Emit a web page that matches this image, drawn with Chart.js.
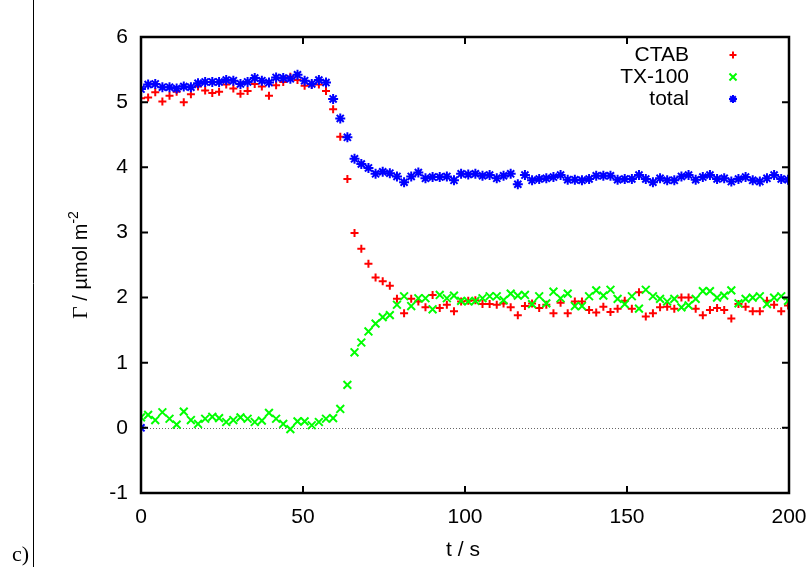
<!DOCTYPE html>
<html>
<head>
<meta charset="utf-8">
<script src="https://cdn.jsdelivr.net/npm/chart.js@4/dist/chart.umd.min.js"></script>
<style>
  html, body { margin: 0; padding: 0; background: #fff; }
  #wrap { position: relative; width: 811px; height: 567px; }
</style>
</head>
<body>
<div id="wrap"><canvas id="grafico"></canvas></div>
<script>
// time axis (s)
const tempos = [0, 2.2, 4.4, 6.6, 8.8, 11.0, 13.2, 15.4, 17.6, 19.8,
  22.0, 24.1, 26.3, 28.5, 30.7, 32.9, 35.1, 37.3, 39.5, 41.7,
  43.9, 46.1, 48.3, 50.5, 52.7, 54.9, 57.1, 59.3, 61.5, 63.7,
  65.9, 68.0, 70.2, 72.4, 74.6, 76.8, 79.0, 81.2, 83.4, 85.6,
  87.8, 90.0, 92.2, 94.4, 96.6, 98.8, 101.0, 103.2, 105.4, 107.6,
  109.8, 111.9, 114.1, 116.3, 118.5, 120.7, 122.9, 125.1, 127.3, 129.5,
  131.7, 133.9, 136.1, 138.3, 140.5, 142.7, 144.9, 147.1, 149.3, 151.5,
  153.7, 155.8, 158.0, 160.2, 162.4, 164.6, 166.8, 169.0, 171.2, 173.4,
  175.6, 177.8, 180.0, 182.2, 184.4, 186.6, 188.8, 191.0, 193.2, 195.4,
  197.6, 199.7];

const ctab = [5.06, 5.07, 5.15, 5.01, 5.10, 5.16, 5.00, 5.12, 5.24, 5.18,
  5.14, 5.16, 5.27, 5.21, 5.13, 5.17, 5.28, 5.24, 5.10, 5.26,
  5.31, 5.39, 5.34, 5.25, 5.27, 5.27, 5.17, 4.89, 4.47, 3.82,
  2.99, 2.75, 2.52, 2.31, 2.25, 2.18, 1.98, 1.76, 1.98, 1.94,
  1.85, 2.04, 1.84, 1.89, 1.79, 1.94, 1.95, 1.96, 1.90, 1.90,
  1.89, 1.91, 1.85, 1.73, 1.87, 1.91, 1.84, 1.89, 1.76, 1.92,
  1.76, 1.94, 1.94, 1.81, 1.77, 1.86, 1.78, 1.83, 1.95, 1.83,
  2.08, 1.71, 1.76, 1.85, 1.86, 1.83, 2.00, 2.00, 1.83, 1.73,
  1.81, 1.84, 1.81, 1.68, 1.90, 1.86, 1.79, 1.79, 1.95, 1.89,
  1.79, 1.88];

const tx100 = [0.16, 0.20, 0.12, 0.24, 0.14, 0.05, 0.25, 0.12, 0.06, 0.14,
  0.17, 0.15, 0.09, 0.12, 0.16, 0.14, 0.09, 0.11, 0.23, 0.14,
  0.06, -0.02, 0.10, 0.10, 0.04, 0.09, 0.14, 0.15, 0.29, 0.66,
  1.16, 1.31, 1.48, 1.60, 1.70, 1.73, 1.89, 2.02, 1.87, 1.99,
  1.99, 1.82, 2.04, 1.99, 2.03, 1.95, 1.94, 1.95, 1.99, 2.02,
  2.02, 1.96, 2.06, 2.03, 2.04, 1.90, 2.02, 1.91, 2.09, 1.99,
  2.06, 1.87, 1.87, 2.02, 2.11, 2.03, 2.12, 1.98, 1.90, 2.02,
  1.83, 2.12, 2.02, 1.98, 1.94, 1.98, 1.85, 1.88, 1.98, 2.10,
  2.10, 2.00, 2.03, 2.11, 1.91, 1.98, 2.00, 2.02, 1.90, 2.00,
  2.02, 1.95];

const total = [5.20, 5.27, 5.28, 5.23, 5.23, 5.21, 5.24, 5.23, 5.29, 5.31,
  5.31, 5.31, 5.34, 5.33, 5.28, 5.31, 5.37, 5.33, 5.30, 5.38,
  5.37, 5.36, 5.42, 5.33, 5.28, 5.34, 5.30, 5.05, 4.75, 4.46,
  4.13, 4.05, 3.99, 3.90, 3.93, 3.91, 3.86, 3.77, 3.86, 3.92,
  3.83, 3.85, 3.85, 3.86, 3.80, 3.90, 3.89, 3.90, 3.87, 3.88,
  3.83, 3.87, 3.90, 3.74, 3.88, 3.80, 3.82, 3.83, 3.85, 3.88,
  3.81, 3.81, 3.80, 3.82, 3.87, 3.87, 3.87, 3.81, 3.82, 3.82,
  3.88, 3.82, 3.77, 3.83, 3.80, 3.80, 3.86, 3.88, 3.81, 3.85,
  3.88, 3.82, 3.83, 3.78, 3.82, 3.85, 3.80, 3.78, 3.83, 3.88,
  3.82, 3.81];

// stray point of the total series sitting on the origin
const totalExtraT = [0];
const totalExtra = [0];

const xTicks = [0, 50, 100, 150, 200];
const yTicks = [-1, 0, 1, 2, 3, 4, 5, 6];

const pares = (xs, ys) => ys.map((v, i) => ({ x: xs[i], y: v }));

const SANS = "'Liberation Sans', Arial, sans-serif";
const SERIF = "'Liberation Serif', 'Times New Roman', serif";

// moldura estilo gnuplot, ticks para dentro, legenda e titulos
const moldura = {
  id: 'moldura',
  beforeDatasetsDraw(chart) {
    const { ctx, chartArea: a, scales } = chart;
    const y0 = scales.y.getPixelForValue(0);
    ctx.save();
    ctx.strokeStyle = '#666';
    ctx.lineWidth = 1;
    ctx.setLineDash([1, 2]);
    ctx.beginPath();
    ctx.moveTo(a.left, Math.round(y0) + 0.5);
    ctx.lineTo(a.right, Math.round(y0) + 0.5);
    ctx.stroke();
    ctx.restore();
  },
  afterDraw(chart) {
    const { ctx, chartArea: a, scales } = chart;
    ctx.save();
    ctx.strokeStyle = '#000';
    ctx.lineWidth = 2.5;
    ctx.strokeRect(a.left, a.top, a.right - a.left, a.bottom - a.top);

    const len = 7;
    ctx.lineWidth = 2;
    ctx.beginPath();
    xTicks.forEach(v => {
      const px = scales.x.getPixelForValue(v);
      ctx.moveTo(px, a.bottom); ctx.lineTo(px, a.bottom - len);
      ctx.moveTo(px, a.top); ctx.lineTo(px, a.top + len);
    });
    yTicks.forEach(v => {
      const py = scales.y.getPixelForValue(v);
      ctx.moveTo(a.left, py); ctx.lineTo(a.left + len, py);
      ctx.moveTo(a.right, py); ctx.lineTo(a.right - len, py);
    });
    ctx.stroke();

    // legenda
    ctx.font = '21px ' + SANS;
    ctx.textAlign = 'right';
    ctx.textBaseline = 'middle';
    const linhas = [55, 77, 99];
    chart.data.datasets.forEach((ds, i) => {
      ctx.fillStyle = '#000';
      ctx.fillText(ds.label, 689, linhas[i]);
      ctx.strokeStyle = ds.borderColor;
      ctx.fillStyle = ds.borderColor;
      ctx.lineWidth = ds.borderWidth;
      Chart.helpers.drawPoint(ctx, {
        pointStyle: ds.pointStyle,
        radius: ds.legendRadius,
        borderWidth: ds.borderWidth
      }, 733, linhas[i]);
    });

    // titulo eixo x
    ctx.fillStyle = '#000';
    ctx.textAlign = 'center';
    ctx.textBaseline = 'alphabetic';
    ctx.font = '21px ' + SANS;
    ctx.fillText('t / s', 463, 556);

    // titulo eixo y
    const partes = [
      { txt: 'Γ', font: '22px ' + SERIF, dy: 0 },
      { txt: ' / µmol m', font: '20px ' + SANS, dy: 0 },
      { txt: '-2', font: '14px ' + SANS, dy: -9 }
    ];
    let largura = 0;
    partes.forEach(p => { ctx.font = p.font; p.w = ctx.measureText(p.txt).width; largura += p.w; });
    ctx.translate(87, 265);
    ctx.rotate(-Math.PI / 2);
    ctx.textAlign = 'left';
    let x = -largura / 2;
    partes.forEach(p => { ctx.font = p.font; ctx.fillText(p.txt, x, p.dy); x += p.w; });
    ctx.restore();

    // margem da pagina e rotulo c)
    ctx.save();
    ctx.strokeStyle = '#000';
    ctx.lineWidth = 1;
    ctx.beginPath();
    ctx.moveTo(33.5, 0);
    ctx.lineTo(33.5, 567);
    ctx.stroke();
    ctx.fillStyle = '#000';
    ctx.font = '22px ' + SERIF;
    ctx.textAlign = 'left';
    ctx.textBaseline = 'alphabetic';
    ctx.fillText('c)', 12, 561);
    ctx.restore();
  }
};

const grafico = new Chart(document.getElementById('grafico'), {
  type: 'scatter',
  data: {
    datasets: [
      {
        label: 'CTAB',
        data: pares(tempos, ctab),
        pointStyle: 'cross',
        pointRadius: 4,
        legendRadius: 3.5,
        borderWidth: 2,
        borderColor: '#ff0000',
        backgroundColor: '#ff0000',
        order: 3
      },
      {
        label: 'TX-100',
        data: pares(tempos, tx100),
        pointStyle: 'crossRot',
        pointRadius: 5.5,
        legendRadius: 5,
        borderWidth: 2,
        borderColor: '#00ff00',
        backgroundColor: '#00ff00',
        order: 2
      },
      {
        label: 'total',
        data: pares(totalExtraT, totalExtra).concat(pares(tempos, total)),
        pointStyle: 'star',
        pointRadius: 5,
        legendRadius: 4,
        borderWidth: 2,
        borderColor: '#0000ff',
        backgroundColor: '#0000ff',
        order: 1
      }
    ]
  },
  options: {
    responsive: true,
    maintainAspectRatio: false,
    animation: false,
    layout: { padding: { top: 37, right: 22, left: 0, bottom: 0 } },
    plugins: {
      legend: { display: false },
      tooltip: { enabled: false }
    },
    scales: {
      x: {
        type: 'linear',
        min: 0,
        max: 200,
        afterFit: (s) => { s.height = 74; s.paddingLeft = 0; s.paddingRight = 0; },
        afterBuildTicks: (s) => { s.ticks = xTicks.map(v => ({ value: v })); },
        grid: { display: false, drawTicks: false },
        border: { display: false },
        ticks: { color: '#000', padding: 12, maxRotation: 0, font: { family: SANS, size: 21 } }
      },
      y: {
        type: 'linear',
        min: -1,
        max: 6,
        afterFit: (s) => { s.width = 141; s.paddingTop = 0; s.paddingBottom = 0; },
        afterBuildTicks: (s) => { s.ticks = yTicks.map(v => ({ value: v })); },
        grid: { display: false, drawTicks: false },
        border: { display: false },
        ticks: { color: '#000', padding: 13, font: { family: SANS, size: 21 } }
      }
    }
  },
  plugins: [moldura]
});
</script>
</body>
</html>
